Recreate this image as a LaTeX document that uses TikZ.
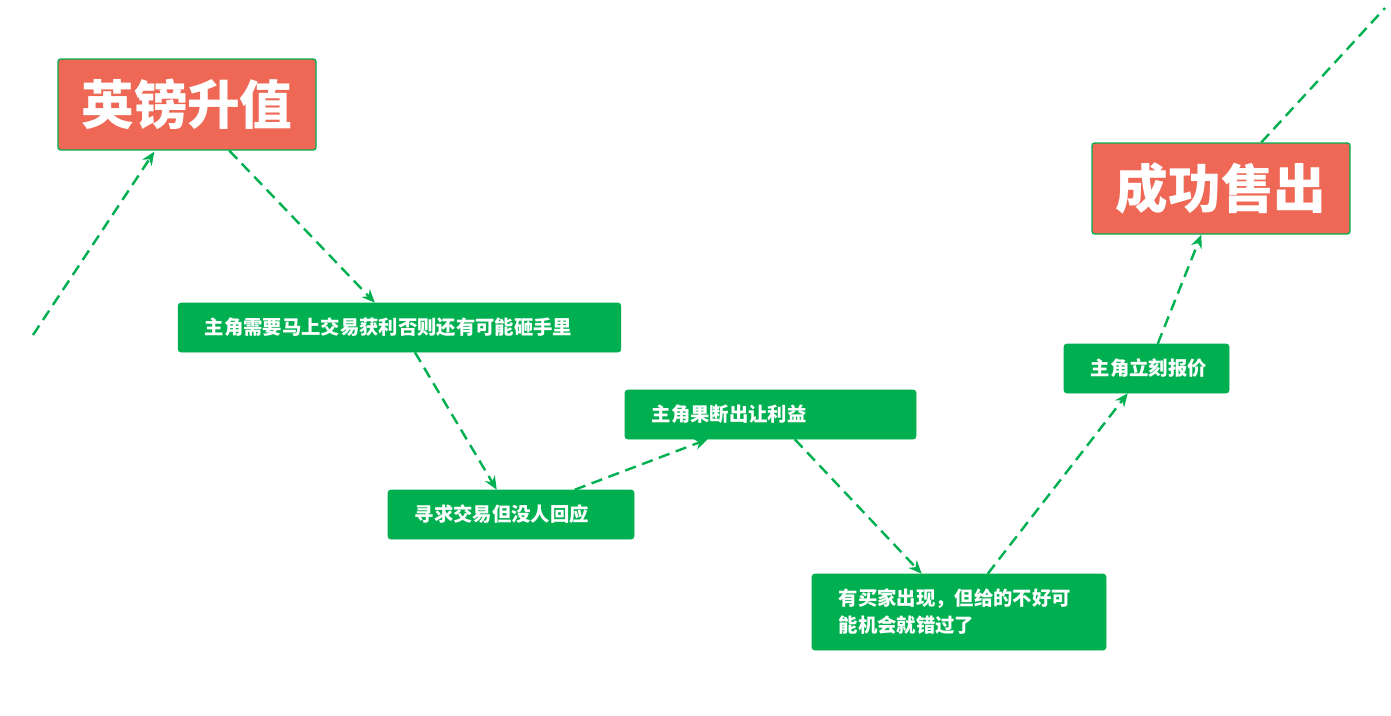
\documentclass[tikz,border=0pt]{standalone}
\usepackage{fontspec}
\newfontfamily\cjk{Noto Sans CJK SC}
\usetikzlibrary{arrows.meta}
\definecolor{stepgreen}{HTML}{00B050}
\definecolor{headred}{HTML}{EE6855}
\begin{document}
\begin{tikzpicture}[
    x=0.75pt, y=-0.75pt,
    >=Stealth,
    stepbox/.style={draw=stepgreen, fill=stepgreen, rounded corners=2pt, text=white,
        font=\cjk\bfseries\fontsize{14.5}{20.25}\selectfont, align=left,
        inner xsep=20pt, inner ysep=0pt, minimum height=36.75pt},
    headbox/.style={draw=stepgreen, line width=1pt, fill=headred, rounded corners=2pt, text=white,
        font=\cjk\bfseries\fontsize{39.5}{40}\selectfont,
        minimum width=193.5pt, minimum height=68.25pt},
    trend/.style={draw=stepgreen, line width=1.8pt, dash pattern=on 8.5pt off 5pt,
        -{Stealth[length=10pt,width=8.5pt]}}
]
\useasboundingbox (0,0) rectangle (1391,715);

\node[headbox] (up) at (187,104.5) {英镑升值};
\node[stepbox, text width=292pt] (hurry) at (399.5,327.5) {主角需要马上交易获利否则还有可能砸手里};
\node[stepbox, text width=144.5pt] (nobody) at (511,514.5) {寻求交易但没人回应};
\node[stepbox, text width=178.25pt] (give) at (770.5,414.5) {主角果断出让利益};
\node[stepbox, text width=180.5pt, minimum height=57pt] (buyer) at (959,612) {有买家出现，但给的不好可\\能机会就错过了};
\node[stepbox, text width=83.75pt] (quote) at (1146.5,368.5) {主角立刻报价};
\node[headbox] (sold) at (1221,188.5) {成功售出};

\coordinate (start) at (33,335);
\coordinate (beyond) at (1385,8);

\draw[trend] (start) -- ([shift={(97,1)}]up.south west);
\draw[trend] ([shift={(172,0)}]up.south west) -- ([shift={(197,0)}]hurry.north west);
\draw[trend] ([shift={(237,0)}]hurry.south west) -- ([shift={(109,0)}]nobody.north west);
\draw[trend] ([shift={(187,0)}]nobody.north west) -- ([shift={(83,0)}]give.south west);
\draw[trend] ([shift={(170,0)}]give.south west) -- ([shift={(110,0)}]buyer.north west);
\draw[trend] ([shift={(176,0)}]buyer.north west) -- ([shift={(64,0)}]quote.south west);
\draw[trend] ([shift={(94,0)}]quote.north west) -- ([shift={(110,0)}]sold.south west);
\draw[trend, -] ([shift={(170,0)}]sold.north west) -- (beyond);
\end{tikzpicture}
\end{document}
